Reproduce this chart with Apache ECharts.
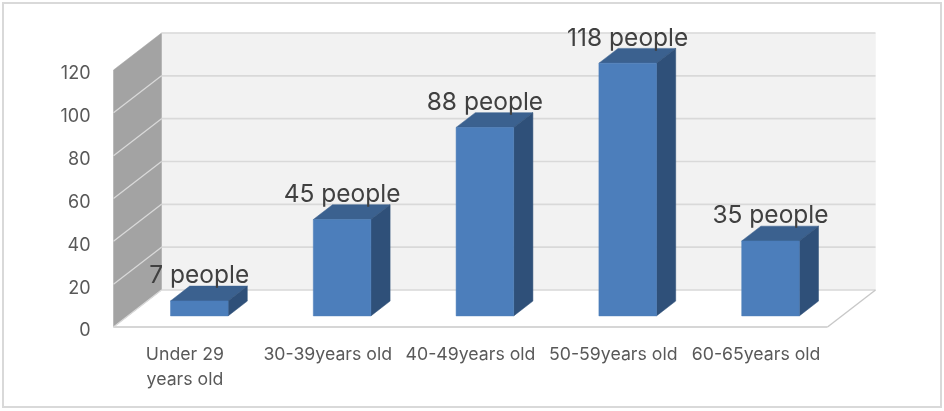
<!DOCTYPE html>
<html>
<head>
<meta charset="utf-8">
<style>html,body{margin:0;padding:0;background:#fff}#c{width:944px;height:411px}</style>
<script src="https://cdn.jsdelivr.net/npm/echarts@6/dist/echarts.min.js"></script>
</head>
<body>
<div id="c"></div>
<script>
const categories = ['Under 29\nyears old', '30-39years old', '40-49years old', '50-59years old', '60-65years old'];
const people = [7, 45, 88, 118, 35];
const yTicks = [0, 20, 40, 60, 80, 100, 120];
const unit = ' people';

const FONT = 'Inter, "Noto Sans", sans-serif';
const DEPTH = { x: 48, y: -37 };
const BAR = { near: 0.30, far: 0.70, half: 28.8 };

const chart = echarts.init(document.getElementById('c'), null, { renderer: 'canvas' });

function poly(points, fill, stroke, lw) {
  return { type: 'polygon', shape: { points }, style: { fill, stroke: stroke || fill, lineWidth: lw === undefined ? 0.5 : lw } };
}
function line(x1, y1, x2, y2, stroke, lw) {
  return { type: 'line', shape: { x1, y1, x2, y2 }, style: { stroke, lineWidth: lw } };
}

function renderWall(params, api) {
  const cs = params.coordSys;
  const L = cs.x, R = cs.x + cs.width;
  const yTop = api.coord([0, yTicks[yTicks.length - 1]])[1];
  const yBot = api.coord([0, yTicks[0]])[1];
  const children = [
    poly([[L + DEPTH.x, yTop + DEPTH.y], [R + DEPTH.x, yTop + DEPTH.y], [R + DEPTH.x, yBot + DEPTH.y], [L + DEPTH.x, yBot + DEPTH.y]], '#f2f2f2'),
    poly([[L, yTop], [L + DEPTH.x, yTop + DEPTH.y], [L + DEPTH.x, yBot + DEPTH.y], [L, yBot]], '#a3a3a3')
  ];
  yTicks.forEach(function (t) {
    const y = api.coord([0, t])[1];
    children.push(line(L + DEPTH.x, y + DEPTH.y, R + DEPTH.x, y + DEPTH.y, '#d9d9d9', 1.6));
    if (t !== yTicks[yTicks.length - 1] && t !== yTicks[0]) {
      children.push(line(L, y, L + DEPTH.x, y + DEPTH.y, '#d9d9d9', 1.3));
    }
  });
  children.push(line(L, yBot, R, yBot, '#c8c8c8', 1.6));
  children.push(line(R, yBot, R + DEPTH.x, yBot + DEPTH.y, '#c8c8c8', 1.4));
  children.push(line(L, yBot, L + DEPTH.x, yBot + DEPTH.y, '#d9d9d9', 1.3));
  return { type: 'group', children };
}

function renderBar(params, api) {
  const c = api.value(0), v = api.value(1);
  const top = api.coord([c, v]), base = api.coord([c, 0]);
  const nx = DEPTH.x * BAR.near, ny = DEPTH.y * BAR.near;
  const fx = DEPTH.x * (BAR.far - BAR.near), fy = DEPTH.y * (BAR.far - BAR.near);
  const x0 = top[0] + nx - BAR.half, x1 = top[0] + nx + BAR.half;
  const yT = top[1] + ny, yB = base[1] + ny;
  return {
    type: 'group',
    children: [
      poly([[x0, yT], [x1, yT], [x1 + fx, yT + fy], [x0 + fx, yT + fy]], '#3b618f'),
      poly([[x1, yT], [x1 + fx, yT + fy], [x1 + fx, yB + fy], [x1, yB]], '#2f5079'),
      poly([[x0, yT], [x1, yT], [x1, yB], [x0, yB]], '#4c7ebb'),
      {
        type: 'text',
        z2: 10,
        style: {
          text: v + unit,
          x: (x0 + x1) / 2,
          y: yT - 25,
          align: 'center',
          verticalAlign: 'middle',
          fill: '#404040',
          fontSize: 24.5,
          fontFamily: FONT
        }
      }
    ]
  };
}

chart.setOption({
  animation: false,
  backgroundColor: '#ffffff',
  grid: { left: 113.5, right: 116.5, top: 70, bottom: 84, containLabel: false },
  xAxis: {
    type: 'category',
    data: categories,
    axisLine: { show: false },
    axisTick: { show: false },
    axisLabel: { color: '#595959', fontSize: 17.7, fontFamily: FONT, margin: 15, lineHeight: 25, interval: 0 }
  },
  yAxis: {
    type: 'value',
    min: yTicks[0],
    max: yTicks[yTicks.length - 1],
    interval: yTicks[1] - yTicks[0],
    axisLine: { show: false },
    axisTick: { show: false },
    splitLine: { show: false },
    axisLabel: { color: '#595959', fontSize: 18, fontFamily: FONT, margin: 23, verticalAlign: 'top', lineHeight: 8 }
  },
  graphic: [{
    type: 'rect',
    shape: { x: 3, y: 3, width: 938, height: 404 },
    style: { fill: 'none', stroke: '#d9d9d9', lineWidth: 2 },
    silent: true
  }],
  series: [
    { type: 'custom', name: 'walls', coordinateSystem: 'cartesian2d', renderItem: renderWall, data: [[0, 0]], clip: false, silent: true, z: 1 },
    { type: 'custom', name: 'people', coordinateSystem: 'cartesian2d', renderItem: renderBar, encode: { x: 0, y: 1 },
      data: people.map(function (v, i) { return [i, v]; }), clip: false, z: 2 }
  ]
});
</script>
</body>
</html>
